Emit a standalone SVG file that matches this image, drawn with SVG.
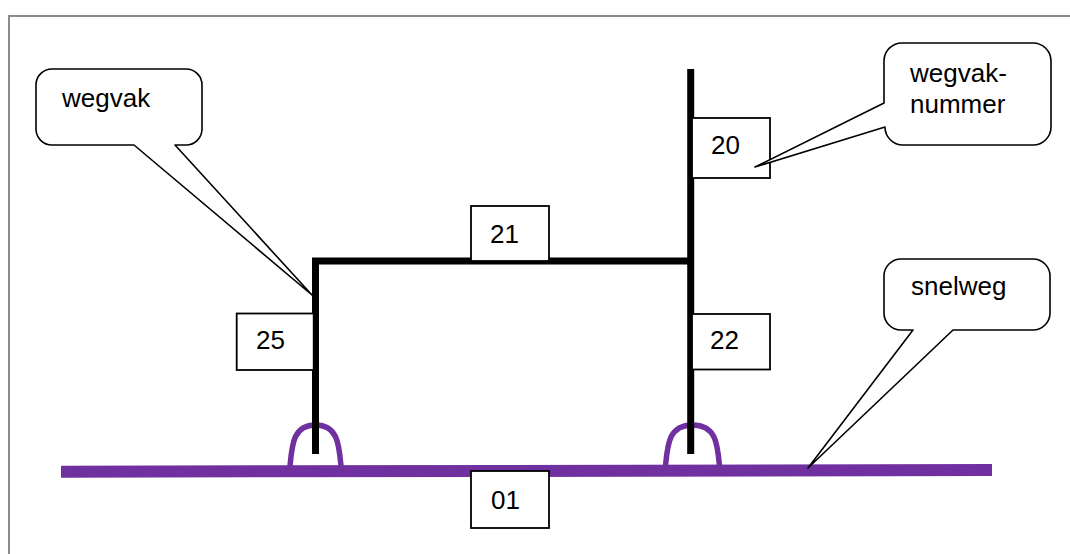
<svg xmlns="http://www.w3.org/2000/svg" width="1070" height="554" viewBox="0 0 1070 554">
<style>
  .frame{stroke:#8c8c8c;stroke-width:2;fill:none}
  .road{stroke:#000;stroke-width:7;fill:none;stroke-linejoin:miter}
  .hwy{stroke:#7030A0;stroke-width:12;fill:none}
  .ramp{stroke:#7030A0;stroke-width:5.5;fill:none}
  .box{fill:#fff;stroke:#000;stroke-width:1.8}
  .callout{fill:#fff;stroke:#000;stroke-width:1.6;stroke-linejoin:round}
  .t{font-family:"Liberation Sans",Arial,sans-serif;font-size:26px;fill:#000}
</style>
<rect width="1070" height="554" fill="#fff"/>
<path class="frame" d="M9,554 V16 H1070"/>

<g id="connectors">
  <line class="hwy" x1="61" y1="471.7" x2="992" y2="470"/>
  <path class="ramp" d="M290,466 C292,445 293,425 315.5,425 C338,425 339,445 341,466"/>
  <path class="ramp" d="M665.5,466 C667.5,445 668.5,425 692.5,425 C716.5,425 717.5,445 719.5,466"/>
  <polyline class="road" points="315.5,454 315.5,261 690.7,261"/>
  <line class="road" x1="690.7" y1="69" x2="690.7" y2="454"/>
</g>

<g id="node-25"><rect class="box" x="236.7" y="313.5" width="77" height="56.5"/><text class="t" x="256" y="349">25</text></g>
<g id="node-21"><rect class="box" x="471" y="206" width="78" height="55"/><text class="t" x="490" y="243">21</text></g>
<g id="node-22"><rect class="box" x="692" y="314" width="78" height="55.5"/><text class="t" x="710" y="349">22</text></g>
<g id="node-20"><rect class="box" x="692" y="118" width="78" height="60"/><text class="t" x="711" y="154">20</text></g>
<g id="node-01"><rect class="box" x="471" y="471" width="78" height="57"/><text class="t" x="491" y="509">01</text></g>

<g id="callout-wegvak">
  <path class="callout" d="M52,69 H186 A16,16 0 0 1 202,85 V129 A16,16 0 0 1 186,145 H175 L312,295 L134,145 H52 A16,16 0 0 1 36,129 V85 A16,16 0 0 1 52,69 Z"/>
  <text class="t" x="62" y="107">wegvak</text>
</g>
<g id="callout-wegvaknummer">
  <path class="callout" d="M903,43 H1033 A18,18 0 0 1 1051,61 V127 A18,18 0 0 1 1033,145 H903 A18,18 0 0 1 885,127 L755,167 L884,103 V61 A18,18 0 0 1 903,43 Z"/>
  <text class="t" x="910" y="82">wegvak-</text>
  <text class="t" x="910" y="113">nummer</text>
</g>
<g id="callout-snelweg">
  <path class="callout" d="M901,259 H1033 A17,17 0 0 1 1050,276 V313 A17,17 0 0 1 1033,330 H953 L808,468 L913,330 H901 A17,17 0 0 1 884,313 V276 A17,17 0 0 1 901,259 Z"/>
  <text class="t" x="911" y="295">snelweg</text>
</g>
</svg>
